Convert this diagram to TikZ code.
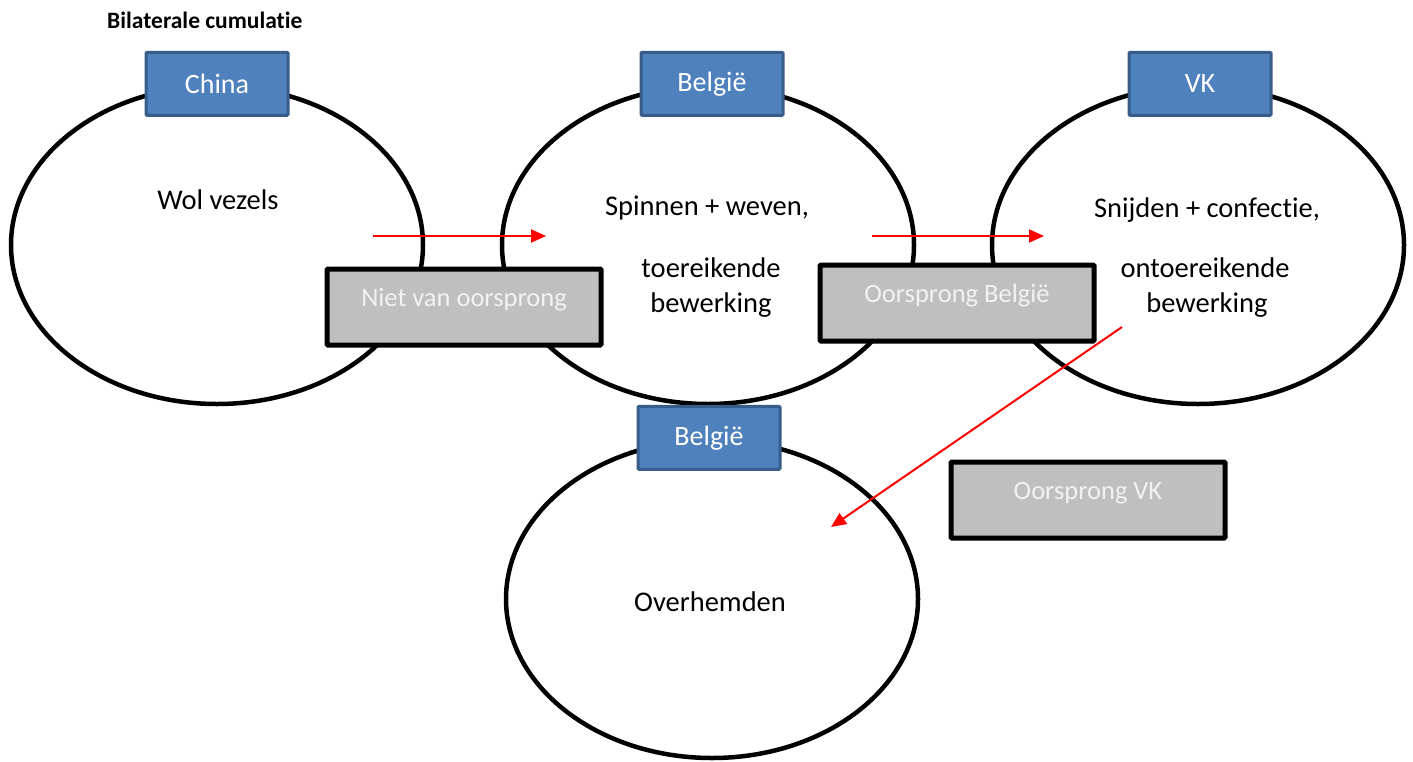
\documentclass[tikz,border=0pt]{standalone}
\usepackage{fontspec}
\setmainfont{Carlito}[Ligatures={NoCommon}]
\usetikzlibrary{shapes.geometric, arrows.meta}

\definecolor{boxblue}{HTML}{4F81BD}
\definecolor{boxblueline}{HTML}{385D8A}
\definecolor{boxgray}{HTML}{BFBFBF}
\definecolor{textwhite}{HTML}{F2F2F2}

\tikzset{
  land/.style={draw, line width=4.5pt, ellipse, minimum width=412pt, minimum height=318pt, inner sep=0pt},
  country/.style={draw=boxblueline, line width=3pt, rounded corners=1pt, fill=boxblue, text=white, minimum width=142pt, minimum height=63pt, inner sep=0pt, font=\fontsize{28}{32}\selectfont},
  status/.style={draw, line width=5pt, rounded corners=1pt, fill=boxgray, text=textwhite, minimum width=274pt, minimum height=76pt, inner sep=0pt, text height=18pt, text depth=20pt, font=\fontsize{26.5}{30}\selectfont},
  step text/.style={font=\fontsize{28.5}{32}\selectfont},
  flow/.style={red, line width=2pt, -{Triangle[length=15pt, width=13pt]}}
}

\begin{document}
\begin{tikzpicture}[x=1pt, y=-1pt]
\useasboundingbox (0,0) rectangle (1413,761);

% title
\node[anchor=base west, inner sep=0pt, font=\fontsize{23.5}{28}\selectfont\bfseries] (title) at (107,28) {Bilaterale cumulatie};

% China
\node[land] (china) at (217,245) {};
\node[step text] (wol) at (218,200) {Wol vezels};

% Belgie
\node[land] (belgie) at (708,245) {};
\node[step text] (spin) at (707,208) {Spinnen + weven,};
\node[step text] (toer) at (711,268) {toereikende};
\node[step text] (bew1) at (711,305) {bewerking};

% VK
\node[land] (vk) at (1198,245) {};
\node[step text] (snij) at (1207,210) {Snijden + confectie,};
\node[step text] (ontoer) at (1205,268) {ontoereikende};
\node[step text] (bew2) at (1207,305) {bewerking};

% Belgie (eindproduct)
\node[land] (belgie2) at (712,599) {};
\node[step text] (hemd) at (710,602) {Overhemden};

% oorsprong
\node[status] (niet) at (464,307) {Niet van oorsprong};
\node[status] (oobe) at (957,303) {Oorsprong België};
\node[status] (oovk) at (1088,500) {Oorsprong VK};

% landen
\node[country, xshift=0pt] at (china.north) (lchina) {China};
\node[country, xshift=4pt] at (belgie.north) (lbelgie) {België};
\node[country, xshift=2pt] at (vk.north) (lvk) {VK};
\node[country, xshift=-3pt] at (belgie2.north) (lbelgie2) {België};

% pijlen
\coordinate (a1) at (373,236);
\coordinate (b1) at (546,236);
\coordinate (a2) at (872,236);
\coordinate (b2) at (1044,236);
\coordinate (a3) at (1122,327);
\coordinate (b3) at (831,527);
\draw[flow] (a1) -- (b1);
\draw[flow] (a2) -- (b2);
\draw[flow] (a3) -- (b3);
\end{tikzpicture}
\end{document}
